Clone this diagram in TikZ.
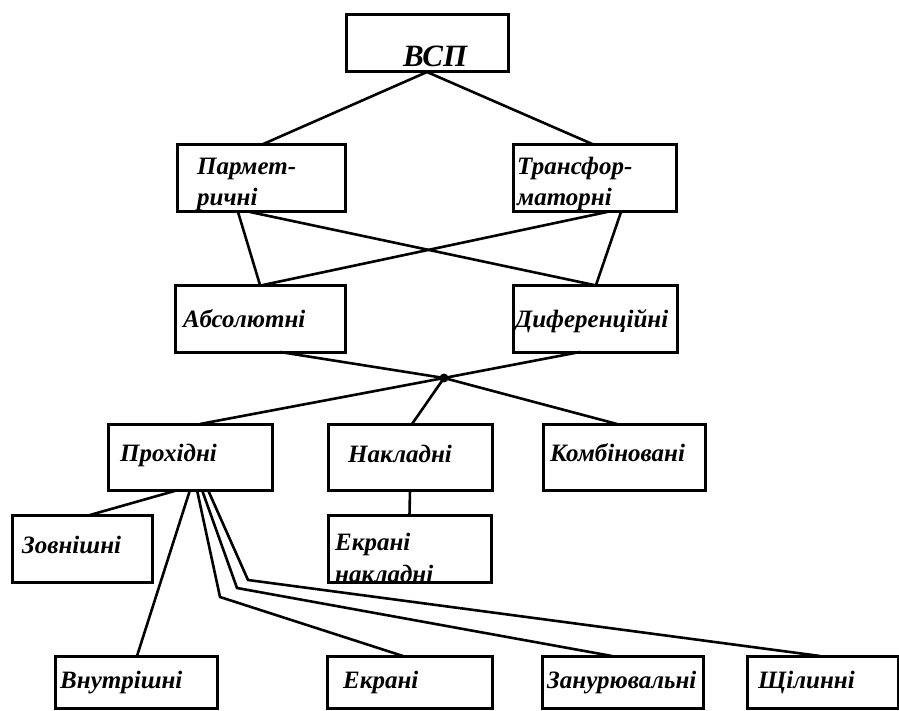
\documentclass[tikz,border=0pt]{standalone}
\usepackage{fontspec}
\setmainfont{Liberation Serif}
\usetikzlibrary{calc}
\begin{document}
\begin{tikzpicture}[x=1pt,y=-1pt,
  box/.style={draw, line width=3pt, inner sep=0pt, outer sep=0pt, anchor=north west},
  conn/.style={line width=2.6pt},
  lbl/.style={anchor=base west, inner sep=0pt, font=\fontsize{25}{29}\selectfont\bfseries\itshape},
  biglbl/.style={anchor=base west, inner sep=0pt, font=\fontsize{31}{35}\selectfont\bfseries\itshape}]
\fill[white] (0,0) rectangle (899,711);
\useasboundingbox (0,0) rectangle (899,711);
% boxes (empty shapes)
\node[box, minimum width=162pt, minimum height=57pt] (vsp) at (346,15) {};
\node[box, minimum width=168pt, minimum height=67pt] (parm) at (177,145) {};
\node[box, minimum width=163pt, minimum height=67pt] (trans) at (513,145) {};
\node[box, minimum width=170pt, minimum height=67pt] (abs) at (175,285) {};
\node[box, minimum width=164pt, minimum height=67pt] (dif) at (513,285) {};
\node[box, minimum width=164pt, minimum height=66pt] (prox) at (108,424) {};
\node[box, minimum width=164pt, minimum height=66pt] (nakl) at (328,424) {};
\node[box, minimum width=162pt, minimum height=66pt] (komb) at (543,424) {};
\node[box, minimum width=140pt, minimum height=67pt] (zovn) at (12,515) {};
\node[box, minimum width=163pt, minimum height=67pt] (ekrn) at (328,515) {};
\node[box, minimum width=162pt, minimum height=52pt] (vnut) at (55,656) {};
\node[box, minimum width=165pt, minimum height=52pt] (ekr) at (327,656) {};
\node[box, minimum width=161pt, minimum height=52pt] (zan) at (542,656) {};
\node[box, minimum width=151pt, minimum height=52pt] (shch) at (747,656) {};
% texts
\node[biglbl] (vsp-t) at (403,67) {ВСП};
\node[lbl] (parm-t1) at (197,175) {Пармет-};
\begin{scope}
  \clip (parm.south west) rectangle (parm.north east);
  \node[lbl] (parm-t2) at (197,206) {ричні};
\end{scope}
\node[lbl] (trans-t1) at (517,175) {Трансфор-};
\begin{scope}
  \clip (trans.south west) rectangle (trans.north east);
  \node[lbl] (trans-t2) at (517,206) {маторні};
\end{scope}
\node[lbl] (abs-t) at (183,327) {Абсолютні};
\node[lbl] (dif-t) at (515,327) {Диференційні};
\node[lbl] (prox-t) at (120,461) {Прохідні};
\node[lbl] (nakl-t) at (348,462) {Накладні};
\node[lbl] (komb-t) at (550,461) {Комбіновані};
\node[lbl] (zovn-t) at (22,553) {Зовнішні};
\node[lbl] (ekrn-t1) at (335,550) {Екрані};
\begin{scope}
  \clip (ekrn.south west) rectangle (ekrn.north east);
  \node[lbl] (ekrn-t2) at (335,582) {накладні};
\end{scope}
\node[lbl] (vnut-t) at (60,688) {Внутрішні};
\node[lbl] (ekr-t) at (343,688) {Екрані};
\node[lbl] (zan-t) at (547,688) {Занурювальні};
\node[lbl] (shch-t) at (758,688) {Щілинні};
% connectors
\draw[conn] (vsp.south) -- (parm.north);
\draw[conn] (vsp.south) -- (trans.north);
\draw[conn] ($(parm.south west)+(61,0)$) -- ($(abs.north west)+(85,0)$);
\draw[conn] ($(parm.south west)+(73,0)$) -- ($(dif.north west)+(81,0)$);
\draw[conn] ($(trans.south west)+(94,0)$) -- ($(abs.north west)+(88,0)$);
\draw[conn] ($(trans.south west)+(108,0)$) -- ($(dif.north west)+(83,0)$);
\coordinate (hub) at (444,378);
\draw[conn] ($(abs.south west)+(105,0)$) -- (hub) -- ($(komb.north west)+(74,0)$);
\draw[conn] ($(dif.south west)+(67,0)$) -- (hub) -- ($(prox.north west)+(92,0)$);
\draw[conn] (hub) -- ($(nakl.north west)+(84,0)$);
\fill (hub) circle (4.5);
\draw[conn] (nakl.south) -- (ekrn.north);
\draw[conn] ($(prox.south west)+(70,0)$) -- ($(zovn.north west)+(78,0)$);
\draw[conn] ($(prox.south west)+(82,0)$) -- ($(vnut.north west)+(82,0)$);
\coordinate (b1) at (220,597);
\coordinate (b2) at (237,588);
\coordinate (b3) at (248,580);
\draw[conn] ($(prox.south west)+(89,0)$) -- (b1) -- ($(ekr.north west)+(76,0)$);
\draw[conn] ($(prox.south west)+(94,0)$) -- (b2) -- ($(zan.north west)+(70,0)$);
\draw[conn] ($(prox.south west)+(100,0)$) -- (b3) -- ($(shch.north west)+(73,0)$);
\end{tikzpicture}
\end{document}
